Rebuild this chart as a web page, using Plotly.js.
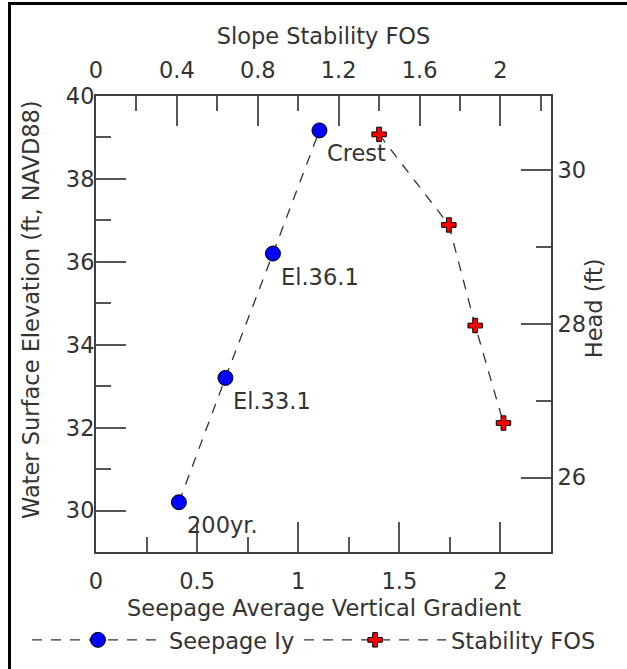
<!DOCTYPE html>
<html><head><meta charset="utf-8">
<script src="https://cdn.plot.ly/plotly-3.0.1.min.js"></script>
<style>
html,body{margin:0;padding:0;background:#fff;overflow:hidden;width:627px;height:669px}
#chart{width:627px;height:669px;position:absolute;left:0;top:0}
#frame{position:absolute;left:8px;top:2px;width:700px;height:700px;border-left:3px solid #000;border-top:3px solid #000;pointer-events:none}
</style></head><body><div id="chart"></div><div id="frame"></div>
<script>
// Seepage average vertical gradient vs water surface elevation
const seepageGradient = [0.41, 0.64, 0.875, 1.105];
const seepageElevation = [30.2, 33.2, 36.2, 39.17];
const seepageLabels = ["200yr.", "El.33.1", "El.36.1", "Crest"];
// Slope stability FOS vs head
const stabilityFOS = [1.40, 1.745, 1.875, 2.015];
const stabilityHead = [30.47, 29.29, 27.98, 26.71];

const FONT = "DejaVu Sans, sans-serif";
const FS = 22.5;
const TXT = "#333333";
const AX = "#404040";

const traces = [
  {x: seepageGradient, y: seepageElevation, xaxis: 'x', yaxis: 'y', name: 'Seepage Iy', legend: 'legend',
   mode: 'lines+markers', line: {color: '#333333', width: 1.3, dash: '10px,9px'},
   marker: {symbol: 'circle', size: 15, color: '#0000ff', line: {color: '#000', width: 1}}},
  {x: stabilityFOS, y: stabilityHead, xaxis: 'x2', yaxis: 'y2', name: 'Stability FOS', legend: 'legend2',
   mode: 'lines+markers', line: {color: '#333333', width: 1.3, dash: '10px,9px'},
   marker: {symbol: 'cross', size: 12, color: '#ff0000', line: {color: '#000', width: 1}}}
];

const axBase = {showline: true, linecolor: AX, linewidth: 2, ticks: 'inside', ticklen: 30,
  tickwidth: 2, tickcolor: '#555', showgrid: false, zeroline: false, automargin: false,
  tickfont: {family: FONT, size: FS, color: TXT}};

const annotations = seepageLabels.map((t, i) => ({
  x: seepageGradient[i], y: seepageElevation[i], xref: 'x', yref: 'y', text: t,
  showarrow: false, xanchor: 'left', yanchor: 'middle', xshift: 6, yshift: -23,
  font: {family: FONT, size: FS, color: TXT}
}));
annotations.push({x: -0.143, y: 0.533, xref: 'paper', yref: 'paper', text: 'Water Surface Elevation (ft, NAVD88)',
  textangle: -90, showarrow: false, xanchor: 'center', yanchor: 'middle', font: {family: FONT, size: FS, color: TXT}});
annotations.push({x: 1.095, y: 0.535, xref: 'paper', yref: 'paper', text: 'Head (ft)',
  textangle: -90, showarrow: false, xanchor: 'center', yanchor: 'middle', font: {family: FONT, size: FS, color: TXT}});
annotations.push({x: 0.5, y: -0.1228, xref: 'paper', yref: 'paper', text: 'Seepage Average Vertical Gradient',
  showarrow: false, xanchor: 'center', yanchor: 'middle', font: {family: FONT, size: FS, color: TXT}});

const legendBase = {orientation: 'h', xref: 'container', yref: 'container', xanchor: 'left', y: 0.043, yanchor: 'middle',
  bgcolor: 'rgba(0,0,0,0)', font: {family: FONT, size: FS, color: TXT}};

const layout = {
  width: 627, height: 669,
  margin: {l: 96, r: 76, t: 96, b: 117, autoexpand: false},
  paper_bgcolor: '#fff', plot_bgcolor: '#fff',
  showlegend: true,
  xaxis: Object.assign({}, axBase, {range: [0, 2.25], dtick: 0.5, tick0: 0, side: 'bottom', anchor: 'y',
    ticklabelstandoff: 8,
    minor: {dtick: 0.25, ticklen: 15, ticks: 'inside', tickwidth: 2, tickcolor: '#555'}}),
  xaxis2: Object.assign({}, axBase, {range: [0, 2.25], dtick: 0.4, tick0: 0, side: 'top', overlaying: 'x', anchor: 'y',
    ticklabelstandoff: 7,
    minor: {dtick: 0.2, ticklen: 15, ticks: 'inside', tickwidth: 2, tickcolor: '#555'},
    title: {text: 'Slope Stability FOS', font: {family: FONT, size: FS, color: TXT}, standoff: 6}}),
  yaxis: Object.assign({}, axBase, {range: [29, 40], dtick: 2, tick0: 30, side: 'left', anchor: 'x',
    minor: {dtick: 1, ticklen: 15, ticks: 'inside', tickwidth: 2, tickcolor: '#555'}, ticklabelstandoff: -5}),
  yaxis2: Object.assign({}, axBase, {range: [25.03, 30.97], dtick: 2, tick0: 26, side: 'right', overlaying: 'y', anchor: 'x',
    minor: {dtick: 1, ticklen: 15, ticks: 'inside', tickwidth: 2, tickcolor: '#555'}, ticklabelstandoff: 0}),
  legend: Object.assign({}, legendBase, {x: 0.043, itemwidth: 132}),
  legend2: Object.assign({}, legendBase, {x: 0.477, itemwidth: 142}),
  annotations: annotations
};

Plotly.newPlot('chart', traces, layout, {displayModeBar: false, staticPlot: true});
</script></body></html>
